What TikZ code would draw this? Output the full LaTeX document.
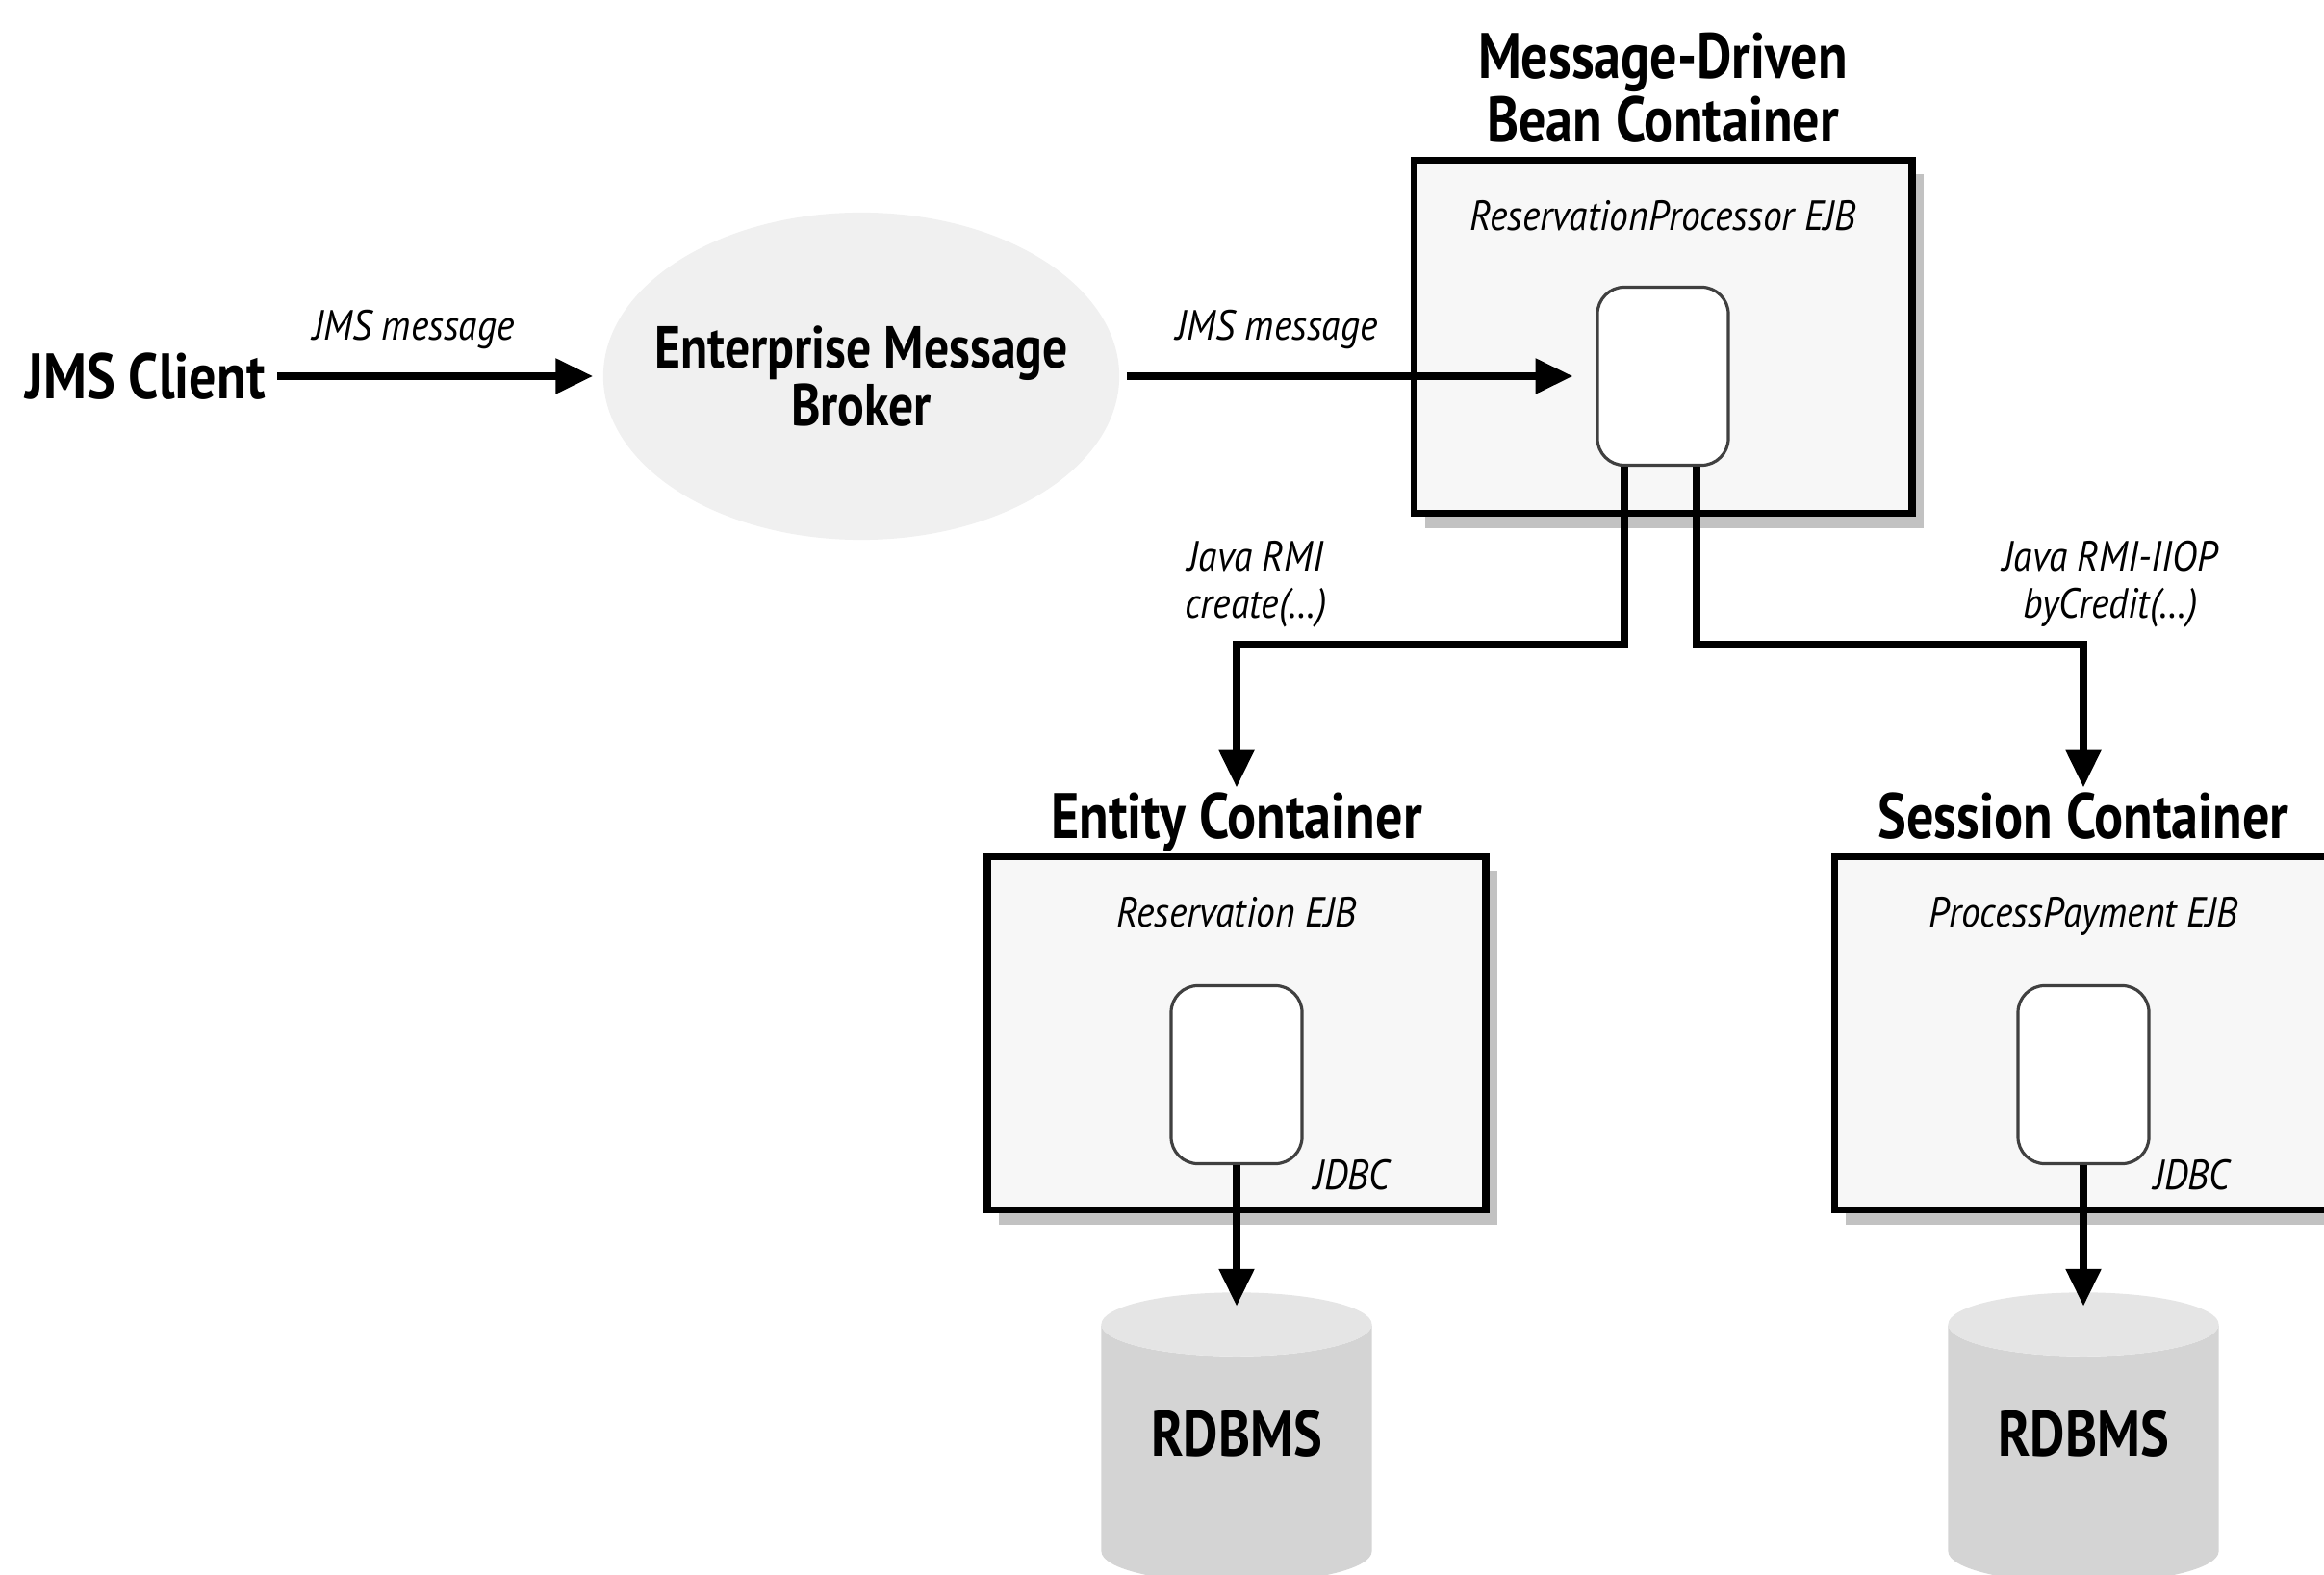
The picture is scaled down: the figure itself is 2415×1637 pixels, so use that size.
\documentclass[tikz,border=0pt]{standalone}
\usepackage{fontspec}
\setmainfont{PT Sans}[FakeStretch=0.84]
\newfontfamily\lblfont{PT Sans}[FakeStretch=0.9]
\usetikzlibrary{positioning,shapes.geometric,shadows,arrows.meta}

\tikzset{
  container/.style={draw=black, line width=2.2pt, fill=black!3,
    minimum width=5.17cm, minimum height=3.67cm,
    drop shadow={shadow xshift=0.12cm, shadow yshift=-0.15cm, fill=black!40, opacity=0.6}},
  bean/.style={draw=black!75, line width=0.9pt, fill=white, rounded corners=0.28cm,
    minimum width=1.36cm, minimum height=1.85cm},
  ctitle/.style={font=\bfseries\fontsize{19}{17.5}\selectfont, align=center,
    inner sep=1.2pt, text depth=3pt},
  ejb/.style={font=\lblfont\itshape\fontsize{12.5}{14}\selectfont, text height=9pt, text depth=3pt},
  lbl/.style={font=\lblfont\itshape\fontsize{12.5}{14}\selectfont, align=center, inner sep=1pt},
  conn/.style={line width=2.2pt, -{Triangle[length=11pt,width=10pt]}},
  db/.style={cylinder, shape border rotate=90, aspect=0.33,
    minimum width=2.81cm, minimum height=3.02cm, text height=0.45cm, text depth=0.55cm,
    cylinder uses custom fill, cylinder body fill=black!17, cylinder end fill=black!10,
    font=\bfseries\fontsize{19}{19}\selectfont},
}

\begin{document}
\begin{tikzpicture}[x=0.01cm, y=-0.01cm]
  \clip (0,0) rectangle (2415,1637);

  % client and broker
  \node[font=\bfseries\fontsize{19}{19}\selectfont] (client) at (151,391) {JMS Client};
  \node[ellipse, fill=black!6, minimum width=5.36cm, minimum height=3.4cm, inner sep=0pt] (broker) at (895,391) {};
  \node[align=center, font=\bfseries\fontsize{17.5}{16}\selectfont] (brokername) at (broker.center) {Enterprise Message\\Broker};

  % containers
  \node[container] (mdb) at (1728,350) {};
  \node[container] (entity) at (1285,1074) {};
  \node[container] (session) at (2165,1074) {};

  \node[ctitle, above=0pt of mdb] (mdbtitle) {Message-Driven\\Bean Container};
  \node[ctitle, above=0pt of entity] (etitle) {Entity Container};
  \node[ctitle, above=0pt of session] (stitle) {Session Container};

  \node[ejb] (mdbname) at ([yshift=-0.66cm]mdb.north) {ReservationProcessor EJB};
  \node[ejb] (ename) at ([yshift=-0.66cm]entity.north) {Reservation EJB};
  \node[ejb] (sname) at ([yshift=-0.66cm]session.north) {ProcessPayment EJB};

  % beans
  \node[bean] (mdbbean) at (1728,391) {};
  \node[bean] (ebean) at (1285,1117) {};
  \node[bean] (sbean) at (2165,1117) {};

  \node[ejb] (ejdbc) at ([xshift=0.5cm,yshift=-0.15cm]ebean.south east) {JDBC};
  \node[ejb] (sjdbc) at ([xshift=0.43cm,yshift=-0.15cm]sbean.south east) {JDBC};

  % databases
  \node[db] (edb) at (1285,1518) {RDBMS};
  \node[db] (sdb) at (2165,1518) {RDBMS};

  % messages
  \draw[conn, shorten >=0.1cm] (client.east) -- (broker.west)
    node[lbl, pos=0.42, above=6pt] {JMS message};
  \draw[conn, shorten <=2pt, shorten >=0.24cm] (broker.east) -- (mdbbean.west)
    node[lbl, pos=0.33, above=6pt] {JMS message};

  % calls
  \coordinate (mdbL) at ([xshift=-0.4cm]mdbbean.south);
  \coordinate (mdbR) at ([xshift=0.35cm]mdbbean.south);
  \draw[conn] (mdbL) -- ++(0,185) -| (etitle.north)
    node[lbl, pos=0.5, above=3pt, xshift=0.2cm] {Java RMI\\create(…)};
  \draw[conn] (mdbR) -- ++(0,185) -| (stitle.north)
    node[lbl, pos=0.5, above=3pt, xshift=0.28cm] {Java RMI-IIOP\\byCredit(…)};

  \draw[conn, shorten >=-0.15cm] (ebean.south) -- (edb.north);
  \draw[conn, shorten >=-0.15cm] (sbean.south) -- (sdb.north);
\end{tikzpicture}
\end{document}
